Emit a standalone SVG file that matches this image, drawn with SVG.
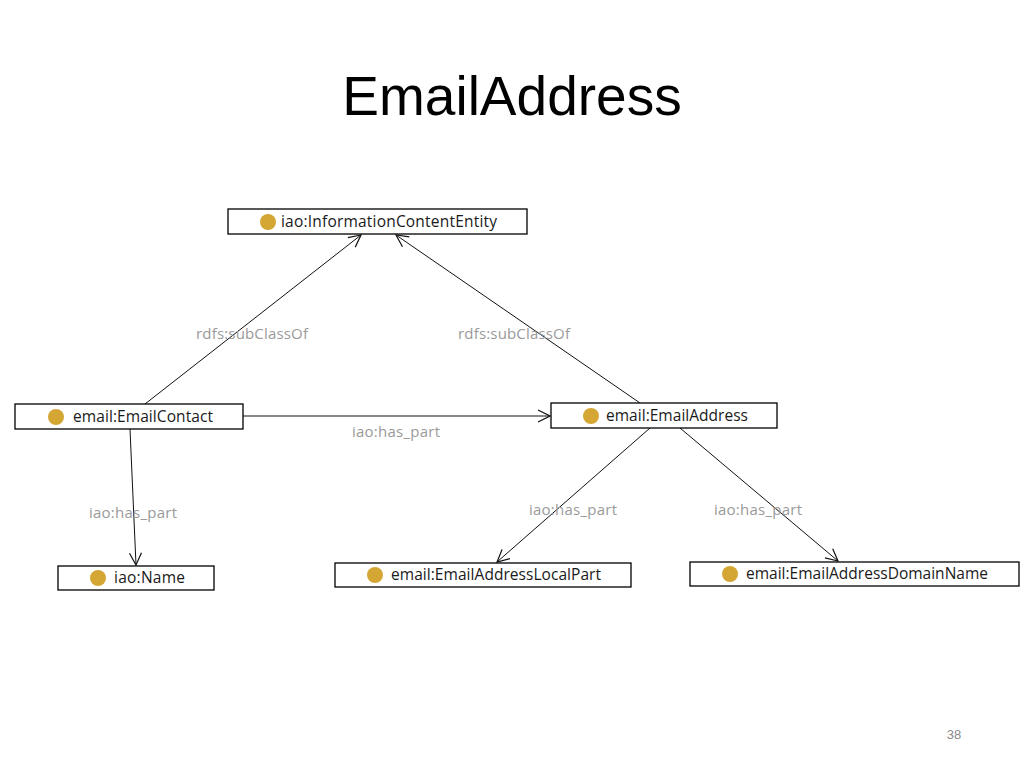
<svg xmlns="http://www.w3.org/2000/svg" width="1024" height="768" viewBox="0 0 1024 768">
<style>
.box{fill:#fff;stroke:#000;stroke-width:1.3}
.dot{fill:#d4a634}
.nt{font-family:"Open Sans","Liberation Sans",sans-serif;font-size:15.5px;fill:#1a1a1a}
.lbl{font-family:"Open Sans","Liberation Sans",sans-serif;font-size:15px;fill:#9a9a9a;text-anchor:middle}
.edge{stroke:#111;stroke-width:1;fill:none;marker-end:url(#arr)}
</style>
<defs>
<marker id="arr" viewBox="0 0 14 14" refX="13" refY="7" markerWidth="14" markerHeight="14" markerUnits="userSpaceOnUse" orient="auto">
<path d="M1,1 L13,7 L1,13" fill="none" stroke="#111" stroke-width="1.2"/>
</marker>
</defs>
<rect width="1024" height="768" fill="#fff"/>
<text x="512" y="115" text-anchor="middle" font-family="Liberation Sans, Arial, sans-serif" font-size="55" fill="#000">EmailAddress</text>
<g id="connectors">
<line class="edge" x1="145" y1="404" x2="361" y2="235"/>
<line class="edge" x1="640" y1="403" x2="396" y2="235"/>
<line class="edge" x1="243" y1="416" x2="550" y2="416"/>
<line class="edge" x1="130" y1="429" x2="136" y2="565"/>
<line class="edge" x1="650" y1="428" x2="497" y2="562"/>
<line class="edge" x1="680" y1="428" x2="838" y2="561"/>
<text class="lbl" x="252" y="339" textLength="112">rdfs:subClassOf</text>
<text class="lbl" x="514" y="339" textLength="112">rdfs:subClassOf</text>
<text class="lbl" x="396" y="437" textLength="88">iao:has_part</text>
<text class="lbl" x="133" y="518" textLength="88">iao:has_part</text>
<text class="lbl" x="573" y="515" textLength="88">iao:has_part</text>
<text class="lbl" x="758" y="515" textLength="88">iao:has_part</text>
</g>
<g id="n-ice">
<rect class="box" x="228" y="209" width="299" height="25"/>
<circle class="dot" cx="268" cy="222" r="8"/>
<text class="nt" x="281" y="227" textLength="216">iao:InformationContentEntity</text>
</g>
<g id="n-contact">
<rect class="box" x="15" y="404" width="228" height="25"/>
<circle class="dot" cx="56" cy="417" r="8"/>
<text class="nt" x="73" y="422" textLength="140">email:EmailContact</text>
</g>
<g id="n-address">
<rect class="box" x="551" y="403" width="226" height="25"/>
<circle class="dot" cx="591" cy="416" r="8"/>
<text class="nt" x="606" y="421" textLength="142">email:EmailAddress</text>
</g>
<g id="n-name">
<rect class="box" x="58" y="566" width="156" height="24"/>
<circle class="dot" cx="98" cy="578" r="8"/>
<text class="nt" x="114" y="583" textLength="71">iao:Name</text>
</g>
<g id="n-local">
<rect class="box" x="335" y="563" width="296" height="24"/>
<circle class="dot" cx="375" cy="575" r="8"/>
<text class="nt" x="391" y="580" textLength="210">email:EmailAddressLocalPart</text>
</g>
<g id="n-domain">
<rect class="box" x="690" y="562" width="329" height="24"/>
<circle class="dot" cx="730" cy="574" r="8"/>
<text class="nt" x="746" y="579" textLength="242">email:EmailAddressDomainName</text>
</g>
<text x="954" y="739" text-anchor="middle" font-family="Liberation Sans, Arial, sans-serif" font-size="13" fill="#8a8a8a">38</text>
</svg>
